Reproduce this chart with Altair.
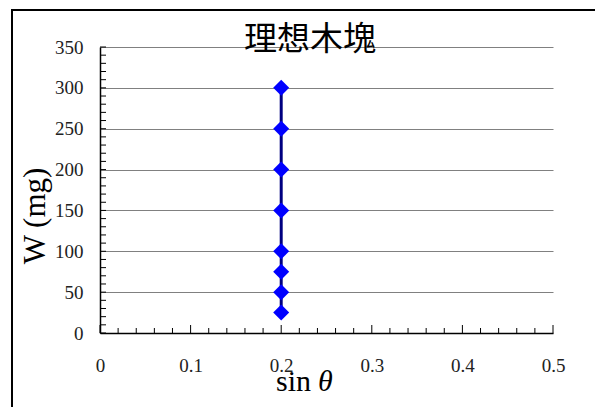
import altair as alt
import pandas as pd

# Measured points: incline sine vs. load weight
sin_theta = [0.2, 0.2, 0.2, 0.2, 0.2, 0.2, 0.2, 0.2]
weight_mg = [25, 50, 75, 100, 150, 200, 250, 300]

x_major = [0, 0.1, 0.2, 0.3, 0.4, 0.5]
x_minor = [0.02, 0.04, 0.06, 0.08, 0.12, 0.14, 0.16, 0.18, 0.22, 0.24, 0.26, 0.28,
           0.32, 0.34, 0.36, 0.38, 0.42, 0.44, 0.46, 0.48]
y_major = [0, 50, 100, 150, 200, 250, 300, 350]
y_minor = [v for v in range(0, 351, 10)]

SERIF = "Liberation Serif"
CJK = "Noto Sans CJK TC"

pts = pd.DataFrame({"s": sin_theta, "w": weight_mg})

xscale = alt.Scale(domain=[0, 0.5], nice=False, zero=True)
yscale = alt.Scale(domain=[0, 350], nice=False)

x_axis = alt.Axis(values=x_major, format="~g", grid=False, ticks=False,
                  domainColor="black", domainWidth=1.5, labelFont=SERIF,
                  labelFontSize=19, labelColor="#222222", labelPadding=23,
                  title=None, labelFlush=False)
y_axis = alt.Axis(values=y_major, grid=True, gridColor="#808080", gridWidth=1,
                  ticks=False, domainColor="black", domainWidth=1.5,
                  labelFont=SERIF, labelFontSize=19, labelColor="#222222",
                  labelPadding=17, title=None)

base = alt.Chart(pts)

line = base.mark_line(color="#000080", strokeWidth=3).encode(
    x=alt.X("s:Q", scale=xscale, axis=x_axis),
    y=alt.Y("w:Q", scale=yscale, axis=y_axis),
)
points = base.mark_point(shape="diamond", filled=True, size=256, color="#0000FF",
                         opacity=1).encode(
    x=alt.X("s:Q", scale=xscale),
    y=alt.Y("w:Q", scale=yscale),
)

# Inward-pointing tick marks
y_ticks = alt.Chart(pd.DataFrame({"v": y_minor})).mark_rule(color="black", strokeWidth=1).encode(
    y=alt.Y("v:Q", scale=yscale), x=alt.value(0), x2=alt.value(6))
x_minor_ticks = alt.Chart(pd.DataFrame({"v": x_minor})).mark_rule(color="black", strokeWidth=1).encode(
    x=alt.X("v:Q", scale=xscale), y=alt.value(286), y2=alt.value(281))
x_major_ticks = alt.Chart(pd.DataFrame({"v": x_major})).mark_rule(color="black", strokeWidth=1).encode(
    x=alt.X("v:Q", scale=xscale), y=alt.value(286), y2=alt.value(278))

title = alt.Chart(pd.DataFrame({"t": ["理想木塊"]})).mark_text(
    font=CJK, fontSize=33, color="black", align="center", baseline="middle").encode(
    text="t:N", x=alt.value(210), y=alt.value(-7))

x_title_a = alt.Chart(pd.DataFrame({"t": ["sin"]})).mark_text(
    font=SERIF, fontSize=30, color="black", align="right",
    baseline="alphabetic").encode(text="t:N", x=alt.value(211), y=alt.value(344))
x_title_b = alt.Chart(pd.DataFrame({"t": ["θ"]})).mark_text(
    font=SERIF, fontSize=30, fontStyle="italic", color="black", align="left",
    baseline="alphabetic").encode(text="t:N", x=alt.value(218), y=alt.value(344))

y_title = alt.Chart(pd.DataFrame({"t": ["W (mg)"]})).mark_text(
    font=SERIF, fontSize=31, color="black", align="center",
    baseline="middle", angle=270).encode(text="t:N", x=alt.value(-64), y=alt.value(169))

frame = alt.Chart(pd.DataFrame({"k": [0]})).mark_rect(
    fill=None, stroke="black", strokeWidth=2).encode(
    x=alt.value(-88), y=alt.value(-37), x2=alt.value(520), y2=alt.value(380))

chart = alt.layer(
    line, points, y_ticks, x_minor_ticks, x_major_ticks,
    title, x_title_a, x_title_b, y_title, frame,
).properties(
    width=453, height=286,
    autosize=alt.AutoSizeParams(type="none"),
    padding={"left": 100, "top": 47, "right": 42, "bottom": 74},
    background="white",
).configure_view(stroke=None)

chart.save("out.html", embed_options={"renderer": "svg", "actions": False})
